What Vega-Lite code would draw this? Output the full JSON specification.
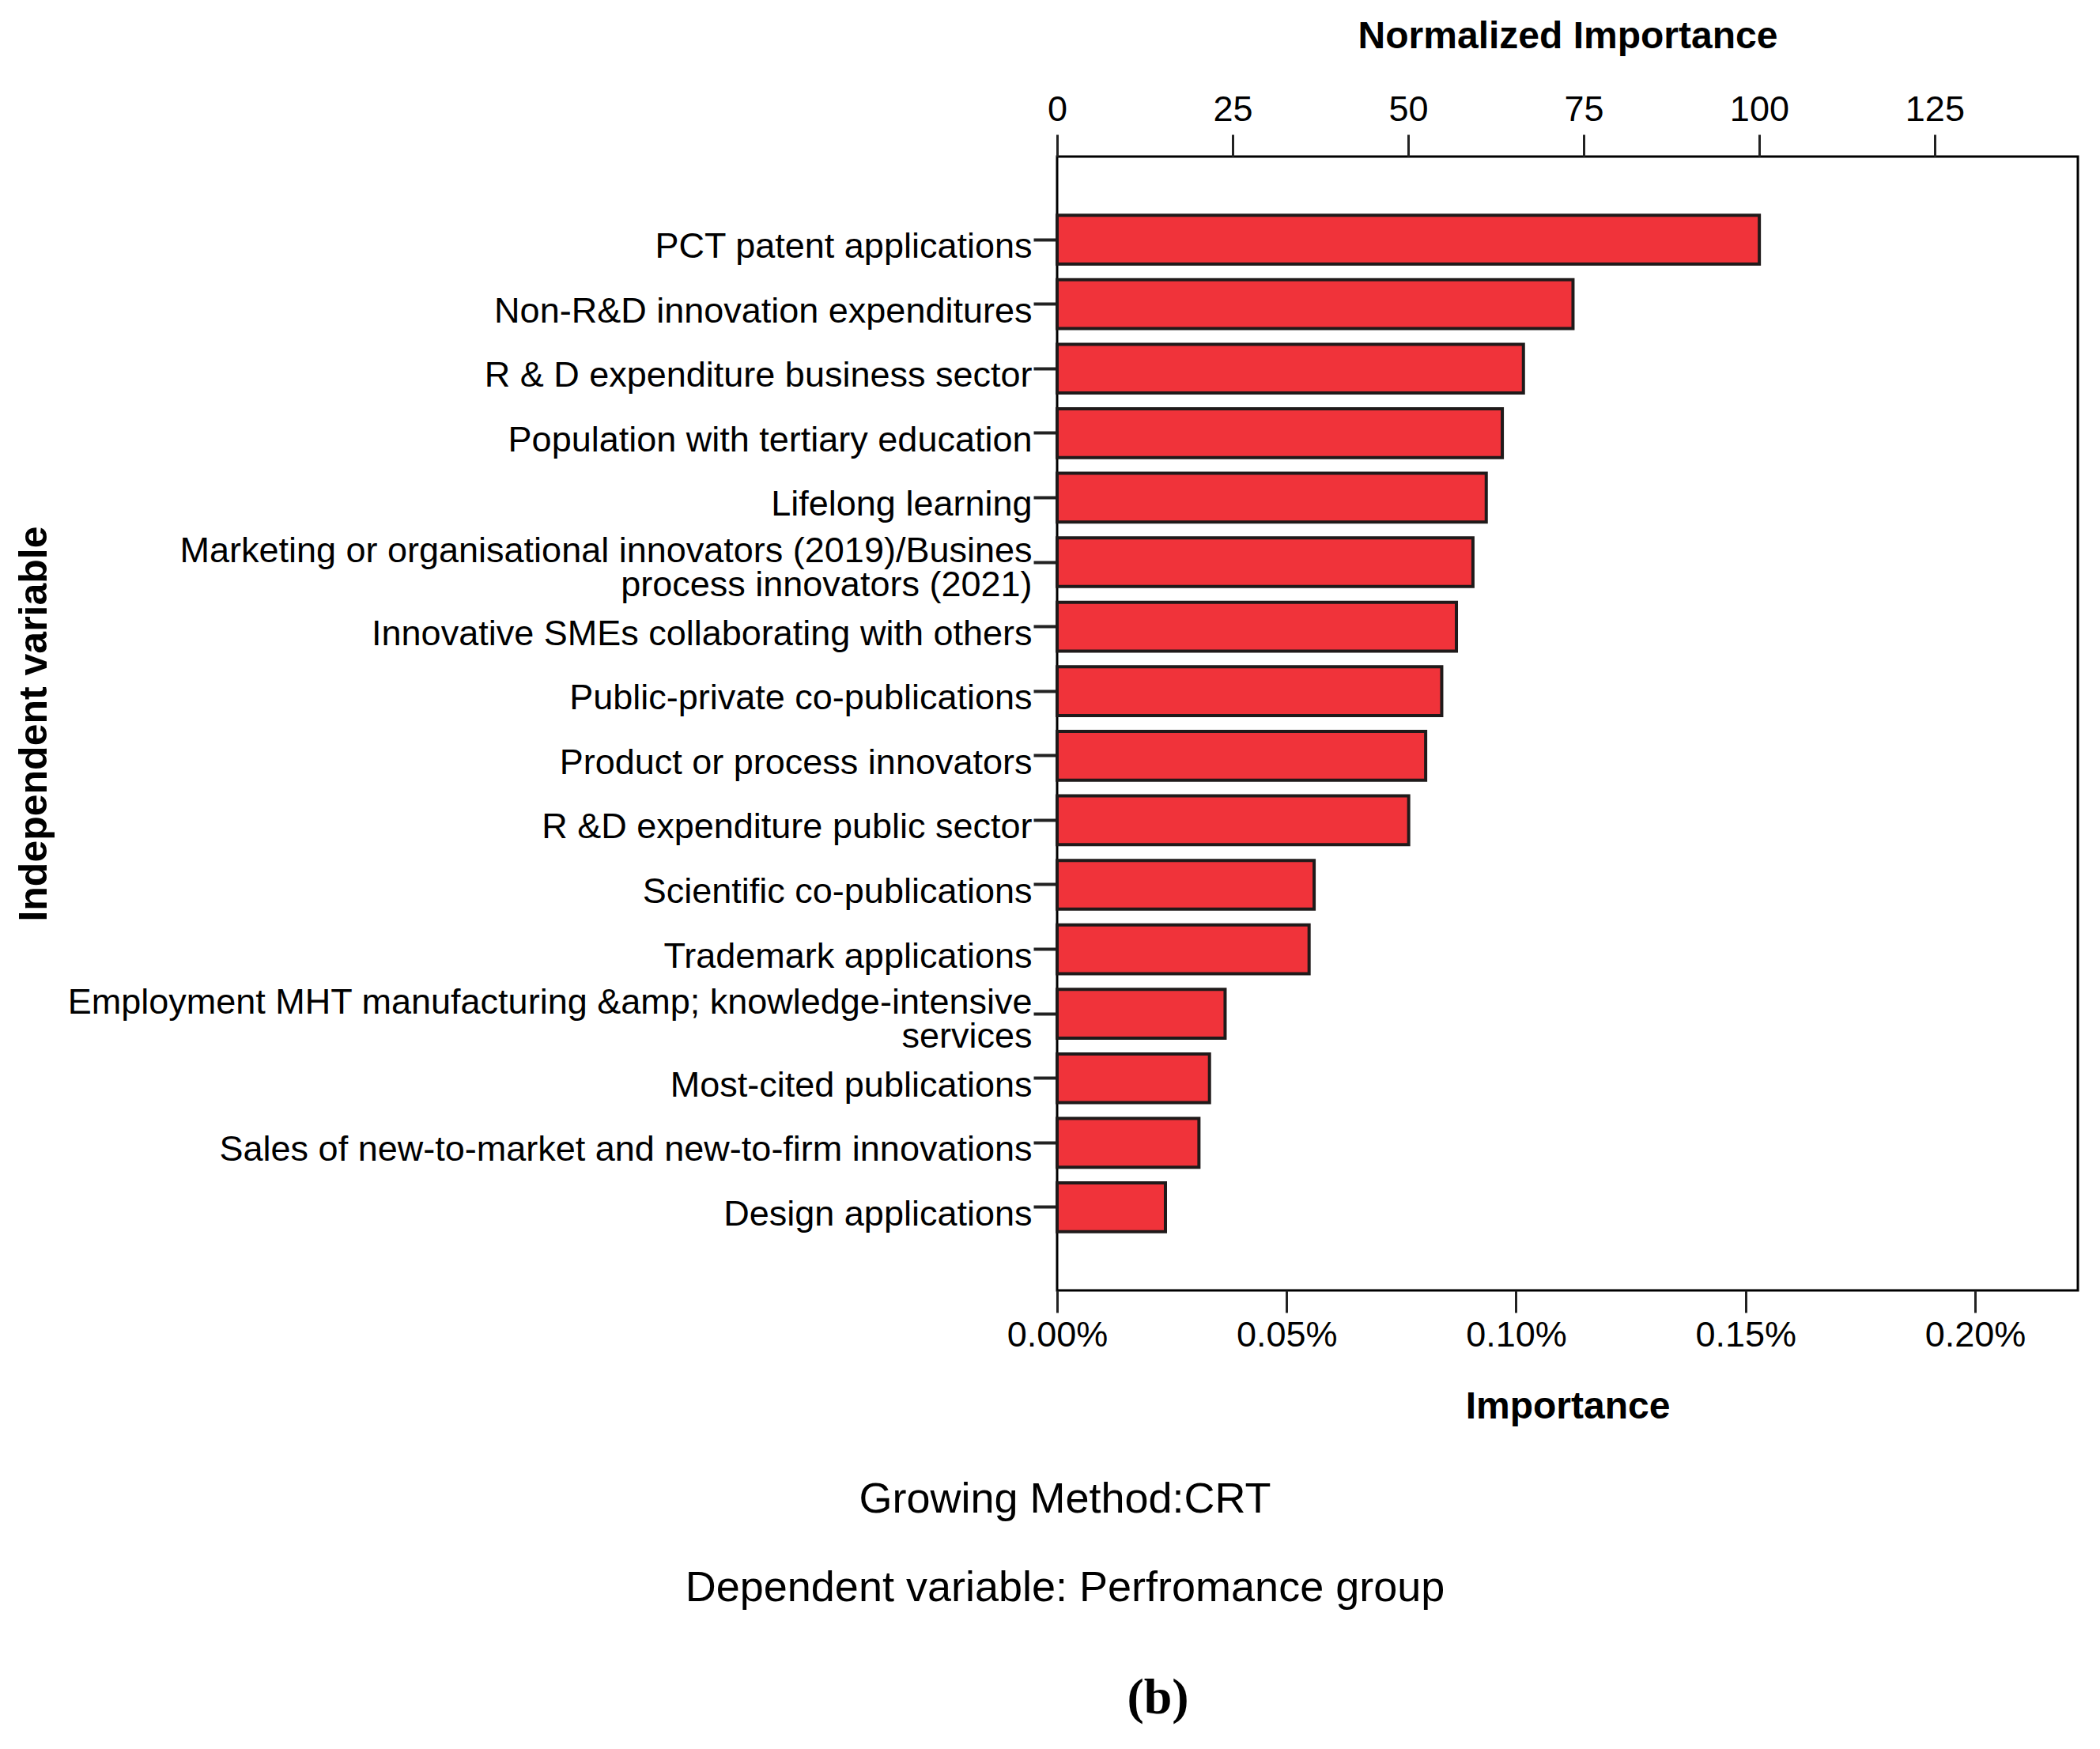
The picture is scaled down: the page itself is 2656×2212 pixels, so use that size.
{
  "$schema": "https://vega.github.io/schema/vega-lite/v6.json",
  "autosize": {"type": "none"},
  "padding": {"left": 1337, "top": 198, "right": 28, "bottom": 580},
  "width": 1291,
  "height": 1434,
  "background": "#ffffff",
  "view": {"fill": "#ffffff", "stroke": "#000000", "strokeWidth": 3},
  "title": {
    "text": ["Growing Method:CRT", "Dependent variable: Perfromance group"],
    "subtitle": "\u2800\u2800\u2800\u2800\u2800(b)",
    "orient": "bottom",
    "anchor": "middle",
    "frame": "bounds",
    "dx": 24,
    "offset": 67,
    "font": "Liberation Sans",
    "fontSize": 54,
    "fontWeight": "normal",
    "color": "#000000",
    "lineHeight": 112,
    "subtitleFont": "Liberation Serif",
    "subtitleFontSize": 64,
    "subtitleFontWeight": "bold",
    "subtitleColor": "#000000",
    "subtitlePadding": 80
  },
  "data": {
    "values": [
      {"variable": "PCT patent applications", "importance": 0.00153, "normalized": 100},
      {"variable": "Non-R&D innovation expenditures", "importance": 0.001124, "normalized": 73.5},
      {"variable": "R & D expenditure business sector", "importance": 0.001016, "normalized": 66.4},
      {"variable": "Population with tertiary education", "importance": 0.00097, "normalized": 63.4},
      {"variable": "Lifelong learning", "importance": 0.000935, "normalized": 61.1},
      {"variable": "Marketing or organisational innovators (2019)/Busines|process innovators (2021)", "importance": 0.000906, "normalized": 59.2},
      {"variable": "Innovative SMEs collaborating with others", "importance": 0.00087, "normalized": 56.9},
      {"variable": "Public-private co-publications", "importance": 0.000838, "normalized": 54.8},
      {"variable": "Product or process innovators", "importance": 0.000803, "normalized": 52.5},
      {"variable": "R &D expenditure public sector", "importance": 0.000766, "normalized": 50.1},
      {"variable": "Scientific co-publications", "importance": 0.00056, "normalized": 36.6},
      {"variable": "Trademark applications", "importance": 0.000549, "normalized": 35.9},
      {"variable": "Employment MHT manufacturing &amp; knowledge-intensive|services", "importance": 0.000366, "normalized": 23.9},
      {"variable": "Most-cited publications", "importance": 0.000332, "normalized": 21.7},
      {"variable": "Sales of new-to-market and new-to-firm innovations", "importance": 0.000309, "normalized": 20.2},
      {"variable": "Design applications", "importance": 0.000236, "normalized": 15.4}
    ]
  },
  "encoding": {
    "y": {
      "field": "variable",
      "type": "nominal",
      "sort": null,
      "scale": {"paddingInner": 0.244, "paddingOuter": 0.91},
      "axis": {
        "title": "Independent variable",
        "titleFont": "Liberation Sans",
        "titleFontSize": 50,
        "titleFontWeight": "bold",
        "titleColor": "#000000",
        "titleX": -1294,
        "titleY": 717,
        "titleAngle": 270,
        "titleAlign": "center",
        "titleBaseline": "middle",
        "labelFont": "Liberation Sans",
        "labelFontSize": 45,
        "labelColor": "#000000",
        "labelLimit": 2000,
        "labelPadding": 2,
        "labelOffset": {"condition": {"test": "indexof(datum.label, '|') >= 0", "value": -14}, "value": 9},
        "labelLineHeight": 43,
        "labelExpr": "split(datum.label, '|')",
        "tickSize": 30,
        "tickWidth": 4,
        "tickColor": "#222222",
        "domain": false
      }
    }
  },
  "layer": [
    {
      "mark": {"type": "bar", "fill": "#f0333a", "stroke": "#1f1a1a", "strokeWidth": 4},
      "encoding": {
        "x": {
          "field": "importance",
          "type": "quantitative",
          "scale": {"domain": [0, 0.002224], "nice": false, "zero": true},
          "axis": {
            "orient": "bottom",
            "title": "Importance",
            "titleFont": "Liberation Sans",
            "titleFontSize": 48,
            "titleFontWeight": "bold",
            "titleColor": "#000000",
            "titlePadding": 44,
            "format": ".2%",
            "values": [0, 0.0005, 0.001, 0.0015, 0.002],
            "labelFont": "Liberation Sans",
            "labelFontSize": 45,
            "labelColor": "#000000",
            "labelPadding": 6,
            "labelFlush": false,
            "tickSize": 28,
            "tickWidth": 3,
            "tickColor": "#222222",
            "grid": false,
            "domain": false
          }
        }
      }
    },
    {
      "mark": {"type": "bar", "opacity": 0},
      "encoding": {
        "x": {
          "field": "normalized",
          "type": "quantitative",
          "scale": {"domain": [0, 145.4], "nice": false, "zero": true},
          "axis": {
            "orient": "top",
            "title": "Normalized Importance",
            "titleFont": "Liberation Sans",
            "titleFontSize": 48,
            "titleFontWeight": "bold",
            "titleColor": "#000000",
            "titlePadding": 46,
            "values": [0, 25, 50, 75, 100, 125],
            "labelFont": "Liberation Sans",
            "labelFontSize": 45,
            "labelColor": "#000000",
            "labelPadding": 9,
            "labelFlush": false,
            "tickSize": 28,
            "tickWidth": 3,
            "tickColor": "#222222",
            "grid": false,
            "domain": false
          }
        }
      }
    }
  ],
  "resolve": {"scale": {"x": "independent"}, "axis": {"x": "independent"}}
}
